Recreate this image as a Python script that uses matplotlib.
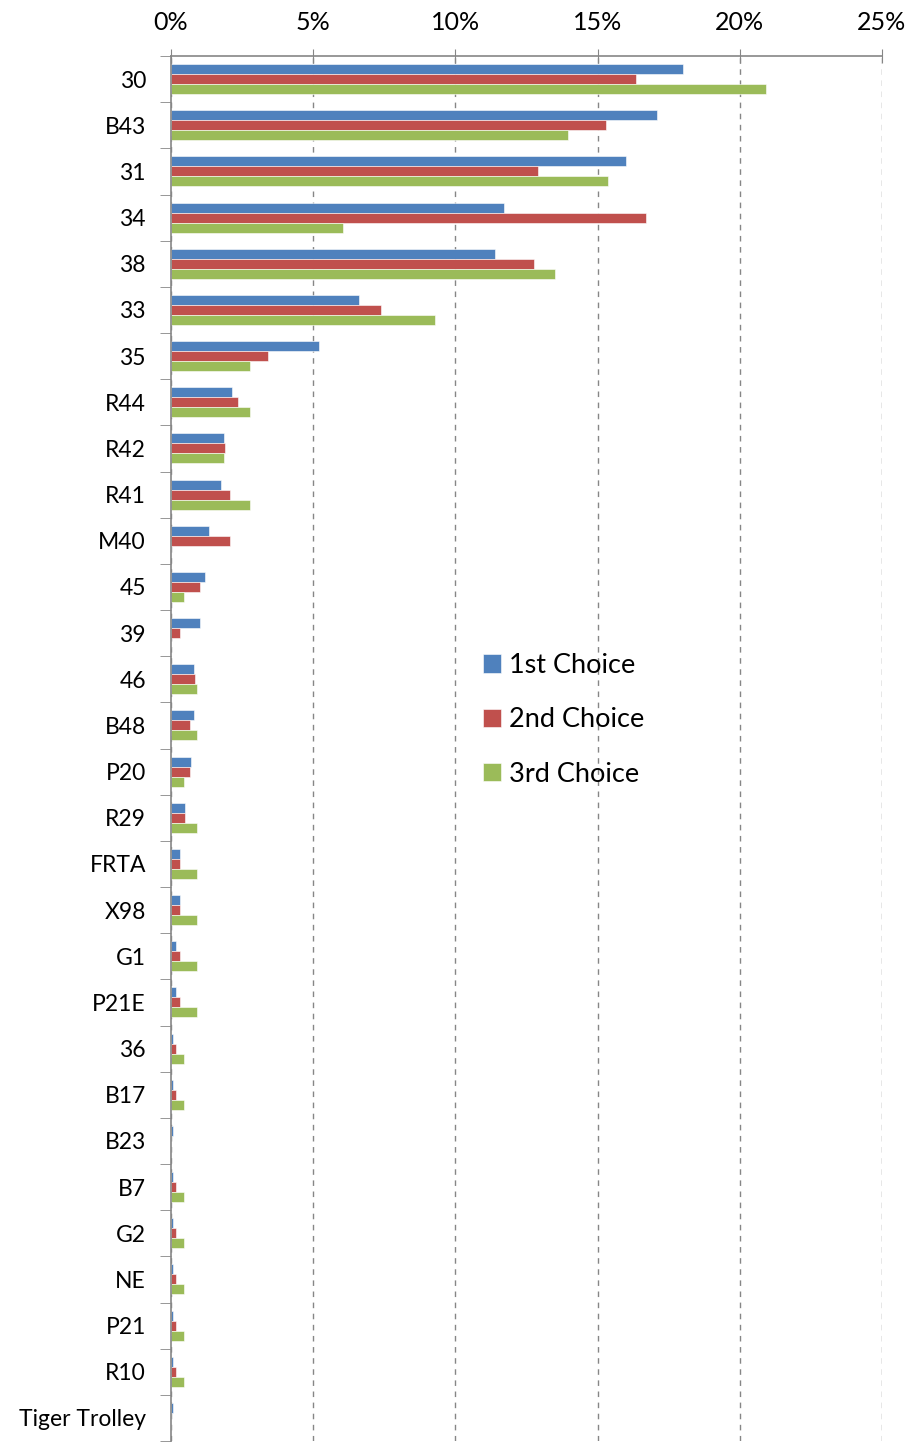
import numpy as np
import matplotlib.pyplot as plt
from matplotlib.ticker import FixedLocator, PercentFormatter

plt.rcParams['font.family'] = ['Lato', 'DejaVu Sans']

routes = ["30", "B43", "31", "34", "38", "33", "35", "R44", "R42", "R41",
          "M40", "45", "39", "46", "B48", "P20", "R29", "FRTA", "X98", "G1",
          "P21E", "36", "B17", "B23", "B7", "G2", "NE", "P21", "R10",
          "Tiger Trolley"]

first = [18.0, 17.1, 16.0, 11.7, 11.4, 6.6, 5.2, 2.15, 1.85, 1.76,
         1.32, 1.2, 1.03, 0.81, 0.81, 0.71, 0.49, 0.3, 0.3, 0.18,
         0.18, 0.08, 0.08, 0.08, 0.08, 0.08, 0.08, 0.08, 0.08, 0.08]
second = [16.35, 15.3, 12.9, 16.7, 12.75, 7.4, 3.42, 2.37, 1.89, 2.06,
          2.06, 1.03, 0.3, 0.85, 0.68, 0.68, 0.49, 0.3, 0.3, 0.3,
          0.3, 0.18, 0.18, 0, 0.18, 0.18, 0.18, 0.18, 0.18, 0]
third = [20.93, 13.95, 15.35, 6.05, 13.5, 9.3, 2.79, 2.79, 1.86, 2.79,
         0, 0.46, 0, 0.93, 0.93, 0.46, 0.93, 0.93, 0.93, 0.93,
         0.93, 0.46, 0.46, 0, 0.46, 0.46, 0.46, 0.46, 0.46, 0]

series = [("1st Choice", first, "#4F81BD"),
          ("2nd Choice", second, "#C0504D"),
          ("3rd Choice", third, "#9BBB59")]


def main():
    fig = plt.figure(figsize=(9.11, 14.44), dpi=100)
    ax = fig.add_axes([171 / 911, 3 / 1444, 711 / 911, 1385 / 1444])

    y = np.arange(len(routes))
    h = 0.217
    for k, (name, vals, color) in enumerate(series):
        ax.barh(y + (k - 1) * h, vals, height=h, color=color, label=name,
                edgecolor="white", linewidth=0.4)

    ax.set_xlim(0, 25)
    ax.set_ylim(len(routes) - 0.5, -0.5)
    ax.xaxis.set_major_locator(FixedLocator([0, 5, 10, 15, 20, 25]))
    ax.xaxis.set_major_formatter(PercentFormatter(decimals=0))
    ax.xaxis.tick_top()
    ax.tick_params(axis="x", direction="inout", length=10, color="#868686",
                   labelsize=18, pad=11)
    ax.grid(axis="x", linestyle=(0, (4, 4)), color="#868686", linewidth=1)
    ax.set_axisbelow(True)

    ax.set_yticks(y)
    ax.set_yticklabels(routes)
    ax.set_yticks(np.arange(len(routes) + 1) - 0.5, minor=True)
    ax.tick_params(axis="y", which="major", length=0, labelsize=16.5, pad=18)
    ax.tick_params(axis="y", which="minor", length=8, direction="out",
                   color="#868686")

    for side in ["right", "bottom"]:
        ax.spines[side].set_visible(False)
    for side in ["left", "top"]:
        ax.spines[side].set_color("#868686")
        ax.spines[side].set_linewidth(1.2)

    ax.legend(loc="upper left", bbox_to_anchor=(483 / 911, 1 - 653 / 1444),
              bbox_transform=fig.transFigure, frameon=False, fontsize=19.5,
              handlelength=0.65, handleheight=0.65, handletextpad=0.3,
              labelspacing=1.08, borderpad=0, borderaxespad=0)

    plt.savefig("out.png", dpi=100)


if __name__ == "__main__":
    main()
